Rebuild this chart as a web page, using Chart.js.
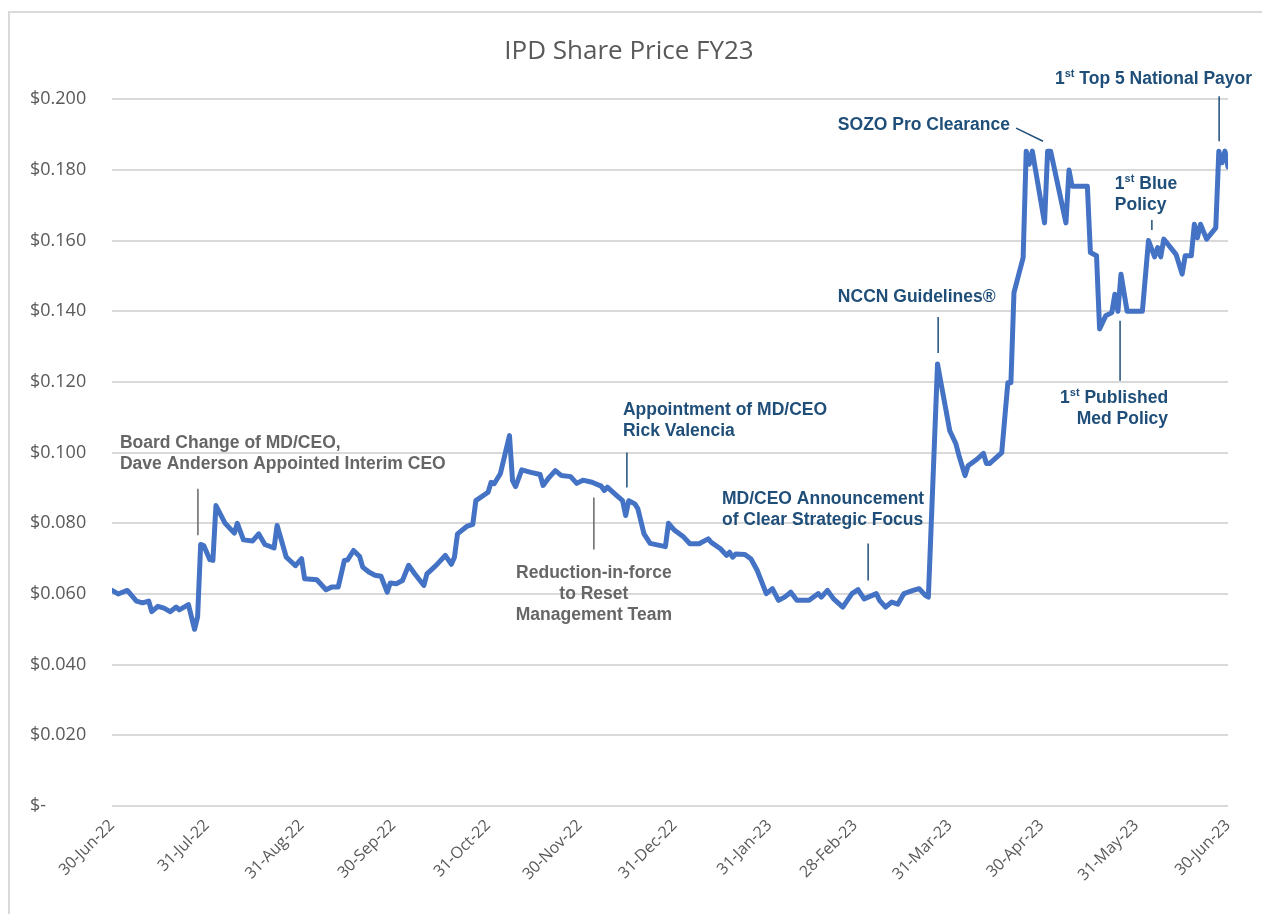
<!DOCTYPE html>
<html>
<head>
<meta charset="utf-8">
<title>IPD Share Price FY23</title>
<script src="https://cdn.jsdelivr.net/npm/chart.js@4.4.0/dist/chart.umd.min.js"></script>
<style>
  html, body { margin: 0; padding: 0; background: #fff; }
  #wrap { position: relative; width: 1262px; height: 914px; }
</style>
</head>
<body>
<div id="wrap"><canvas id="priceChart" width="1262" height="914"></canvas></div>
<script>
// x axis = days since 30-Jun-22, labelled at month ends
var monthDays = [0, 31, 62, 92, 123, 153, 184, 215, 243, 274, 304, 335, 365];
var monthLabels = ['30-Jun-22', '31-Jul-22', '31-Aug-22', '30-Sep-22', '31-Oct-22', '30-Nov-22',
    '31-Dec-22', '31-Jan-23', '28-Feb-23', '31-Mar-23', '30-Apr-23', '31-May-23', '30-Jun-23'];
var yTicks = [0, 0.02, 0.04, 0.06, 0.08, 0.10, 0.12, 0.14, 0.16, 0.18, 0.20];

// share price readings (day offset, price)
var days = [
    0, 2, 5, 6, 8, 10, 12, 13, 15, 17, 19, 21, 22, 25, 27, 28, 29, 30, 32, 33,
    34, 37, 40, 41, 43, 46, 48, 50, 53, 54, 57, 58, 60, 62, 63, 67, 70, 72, 74, 76,
    77, 79, 81, 82, 84, 86, 88, 90, 91, 93, 95, 97, 99, 102, 103, 106, 109, 111, 112, 113,
    116, 118, 119, 123, 124, 125, 127, 130, 131, 132, 134, 137, 140, 141, 143, 145, 147, 150, 152, 154,
    157, 160, 161, 162, 165, 167, 168, 169, 171, 172, 174, 176, 181, 182, 184, 187, 189, 192, 195, 196,
    199, 201, 202, 203, 204, 207, 209, 211, 214, 216, 218, 220, 222, 224, 228, 231, 232, 234, 236, 239,
    242, 244, 246, 250, 251, 253, 255, 257, 259, 262, 264, 266, 267, 270, 271, 274, 276, 277, 279, 280,
    283, 285, 286, 287, 290, 291, 293, 294, 295, 298, 299, 300, 301, 305, 306, 307, 312, 313, 314, 319,
    320, 322, 323, 325, 327, 328, 329, 330, 332, 337, 339, 341, 342, 343, 344, 348, 350, 351, 353, 354,
    355, 356, 358, 361, 362, 363, 364, 365
];
var prices = [
    0.0610, 0.0600, 0.0610, 0.0600, 0.0580, 0.0575, 0.0580, 0.0550, 0.0565, 0.0560, 0.0550, 0.0563, 0.0555, 0.0570, 0.0500, 0.0535, 0.0740, 0.0737, 0.0697, 0.0695,
    0.0850, 0.0800, 0.0772, 0.0800, 0.0753, 0.0750, 0.0770, 0.0740, 0.0730, 0.0794, 0.0704, 0.0696, 0.0680, 0.0700, 0.0643, 0.0640, 0.0612, 0.0620, 0.0620, 0.0695,
    0.0696, 0.0723, 0.0706, 0.0676, 0.0662, 0.0653, 0.0650, 0.0605, 0.0631, 0.0629, 0.0638, 0.0681, 0.0657, 0.0624, 0.0657, 0.0681, 0.0709, 0.0684, 0.0704, 0.0770,
    0.0791, 0.0797, 0.0864, 0.0888, 0.0916, 0.0912, 0.0940, 0.1048, 0.0921, 0.0904, 0.0951, 0.0944, 0.0938, 0.0907, 0.0930, 0.0949, 0.0935, 0.0932, 0.0913, 0.0922,
    0.0916, 0.0905, 0.0893, 0.0902, 0.0879, 0.0864, 0.0822, 0.0864, 0.0855, 0.0841, 0.0770, 0.0743, 0.0734, 0.0800, 0.0780, 0.0761, 0.0742, 0.0742, 0.0756, 0.0746,
    0.0728, 0.0709, 0.0718, 0.0704, 0.0713, 0.0712, 0.0699, 0.0667, 0.0601, 0.0615, 0.0582, 0.0591, 0.0605, 0.0582, 0.0582, 0.0601, 0.0591, 0.0610, 0.0586, 0.0563,
    0.0601, 0.0612, 0.0586, 0.0601, 0.0582, 0.0563, 0.0577, 0.0571, 0.0601, 0.0610, 0.0615, 0.0596, 0.0591, 0.1251, 0.1203, 0.1062, 0.1025, 0.0992, 0.0935, 0.0963,
    0.0982, 0.0998, 0.0969, 0.0969, 0.0992, 0.1000, 0.1198, 0.1198, 0.1453, 0.1552, 0.1853, 0.1816, 0.1853, 0.1650, 0.1853, 0.1853, 0.1650, 0.1800, 0.1754, 0.1754,
    0.1566, 0.1557, 0.1350, 0.1387, 0.1396, 0.1448, 0.1400, 0.1505, 0.1400, 0.1400, 0.1600, 0.1554, 0.1580, 0.1554, 0.1604, 0.1561, 0.1505, 0.1557, 0.1557, 0.1646,
    0.1608, 0.1646, 0.1604, 0.1636, 0.1853, 0.1820, 0.1853, 0.1808
];

var GREY = '#666666';
var NAVY = '#1f4e79';

// event callouts, anchored in data units (day, price)
var notes = [
    { lines: ['Board Change of MD/CEO,', 'Dave Anderson Appointed Interim CEO'], day: 2.6, price: 0.1028, align: 'left', color: GREY,
      lead: [28.1, 0.0898, 28.1, 0.0766] },
    { lines: ['Reduction-in-force', 'to Reset', 'Management Team'], day: 157.6, price: 0.0658, align: 'center', color: GREY,
      lead: [157.6, 0.0873, 157.6, 0.0726] },
    { lines: ['Appointment of MD/CEO', 'Rick Valencia'], day: 167.1, price: 0.1119, align: 'left', color: NAVY,
      lead: [168.4, 0.1000, 168.4, 0.0901] },
    { lines: ['MD/CEO Announcement', 'of Clear Strategic Focus'], day: 199.5, price: 0.0867, align: 'left', color: NAVY,
      lead: [247.3, 0.0743, 247.3, 0.0638] },
    { lines: ['NCCN Guidelines\u00ae'], day: 237.4, price: 0.1441, align: 'left', color: NAVY,
      lead: [270.2, 0.1384, 270.2, 0.1282] },
    { lines: ['SOZO Pro Clearance'], day: 237.4, price: 0.1927, align: 'left', color: NAVY,
      lead: [295.7, 0.1918, 304.5, 0.1881] },
    { lines: ['1{st} Top 5 National Payor'], day: 308.4, price: 0.2056, align: 'left', color: NAVY,
      lead: [362.1, 0.2008, 362.1, 0.1881] },
    { lines: ['1{st} Blue', 'Policy'], day: 328.0, price: 0.1760, align: 'left', color: NAVY,
      lead: [340.1, 0.1658, 340.1, 0.1630] },
    { lines: ['1{st} Published', 'Med Policy'], day: 345.4, price: 0.1155, align: 'right', color: NAVY,
      lead: [329.7, 0.1373, 329.7, 0.1203] }
];

function splitRich(str) {
    var parts = [];
    var re = /\{([^}]*)\}/g, last = 0, m;
    while ((m = re.exec(str)) !== null) {
        if (m.index > last) parts.push({ t: str.slice(last, m.index), sup: false });
        parts.push({ t: m[1], sup: true });
        last = re.lastIndex;
    }
    if (last < str.length) parts.push({ t: str.slice(last), sup: false });
    return parts;
}

function drawRich(ctx, str, x, y, align) {
    var font = 'bold 17.5px "Liberation Sans", Arial, sans-serif';
    var supFont = 'bold 11px "Liberation Sans", Arial, sans-serif';
    var parts = splitRich(str);
    var total = 0;
    parts.forEach(function (p) {
        ctx.font = p.sup ? supFont : font;
        p.w = ctx.measureText(p.t).width;
        total += p.w;
    });
    var cx = x;
    if (align === 'center') cx = x - total / 2;
    if (align === 'right') cx = x - total;
    ctx.textAlign = 'left';
    ctx.textBaseline = 'middle';
    parts.forEach(function (p) {
        ctx.font = p.sup ? supFont : font;
        ctx.fillText(p.t, cx, p.sup ? y - 5 : y);
        cx += p.w;
    });
}

var calloutPlugin = {
    id: 'callouts',
    beforeDraw: function (chart) {
        var ctx = chart.ctx;
        ctx.save();
        ctx.strokeStyle = '#d9d9d9';
        ctx.lineWidth = 2;
        ctx.strokeRect(9, 12, 1300, 1000);
        ctx.restore();
    },
    afterDatasetsDraw: function (chart) {
        var ctx = chart.ctx;
        var xs = chart.scales.x, ys = chart.scales.y;
        ctx.save();
        notes.forEach(function (n) {
            var x = xs.getPixelForValue(n.day);
            var y = ys.getPixelForValue(n.price);
            ctx.fillStyle = n.color;
            n.lines.forEach(function (line, i) {
                drawRich(ctx, line, x, y + i * 21, n.align);
            });
            ctx.strokeStyle = n.color;
            ctx.lineWidth = 1.5;
            ctx.beginPath();
            ctx.moveTo(xs.getPixelForValue(n.lead[0]), ys.getPixelForValue(n.lead[1]));
            ctx.lineTo(xs.getPixelForValue(n.lead[2]), ys.getPixelForValue(n.lead[3]));
            ctx.stroke();
        });
        ctx.restore();
    }
};

var ctx = document.getElementById('priceChart').getContext('2d');
var priceChart = new Chart(ctx, {
    type: 'line',
    data: {
        datasets: [{
            label: 'IPD Share Price',
            data: days.map(function (d, i) { return { x: d, y: prices[i] }; }),
            borderColor: '#4472c4',
            borderWidth: 5,
            borderJoinStyle: 'round',
            borderCapStyle: 'round',
            pointRadius: 0,
            tension: 0,
            fill: false
        }]
    },
    options: {
        responsive: false,
        animation: false,
        layout: { padding: { left: 30, right: 34, top: 36, bottom: 8 } },
        plugins: {
            legend: { display: false },
            tooltip: { enabled: false },
            title: {
                display: true,
                text: 'IPD Share Price FY23',
                color: '#595959',
                font: { family: '"Open Sans", sans-serif', size: 26, weight: 'normal' },
                padding: { top: 0, bottom: 32 }
            }
        },
        scales: {
            x: {
                type: 'linear',
                min: 0,
                max: 365,
                afterBuildTicks: function (scale) {
                    scale.ticks = monthDays.map(function (d) { return { value: d }; });
                },
                afterFit: function (scale) { scale.height = 100; },
                grid: { display: false },
                border: { display: false },
                ticks: {
                    autoSkip: false,
                    minRotation: 45,
                    maxRotation: 45,
                    padding: 2,
                    color: '#595959',
                    font: { family: '"Open Sans", sans-serif', size: 16 },
                    callback: function (value) {
                        var i = monthDays.indexOf(value);
                        return i >= 0 ? monthLabels[i] : '';
                    }
                }
            },
            y: {
                min: 0,
                max: 0.2,
                afterBuildTicks: function (scale) {
                    scale.ticks = yTicks.map(function (v) { return { value: v }; });
                },
                afterFit: function (scale) { scale.width = 82; },
                grid: { color: '#d9d9d9', lineWidth: 2, drawTicks: false },
                border: { display: false },
                ticks: {
                    crossAlign: 'far',
                    padding: 8,
                    color: '#595959',
                    font: { family: '"Open Sans", sans-serif', size: 18 },
                    callback: function (value) {
                        return value === 0 ? '$-' : '$' + value.toFixed(3);
                    }
                }
            }
        }
    },
    plugins: [calloutPlugin]
});
</script>
</body>
</html>
